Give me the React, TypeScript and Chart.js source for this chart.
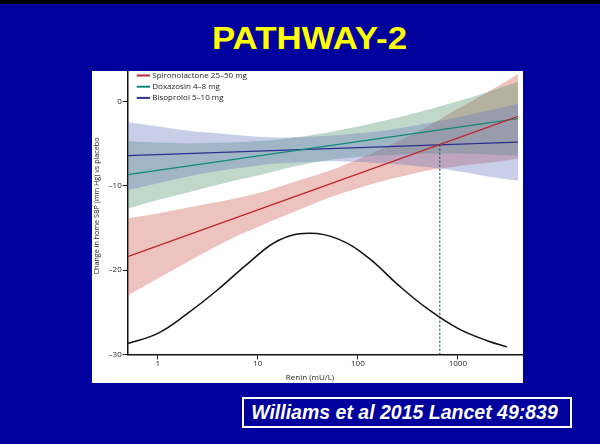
import React, { useEffect, useRef } from 'react';
import { Chart, registerables } from 'chart.js';

Chart.register(...registerables);

// ---------- data ----------
const reninGrid = [0.5, 1, 2, 5, 10, 20, 50, 100, 200, 500, 1000, 2000, 4000];
const spiroUpper = [-13.9, -13.3, -12.6, -11.7, -10.9, -9.8, -8.3, -6.9, -5.3, -3.0, -0.9, 1.1, 3.2];
const spiroLower = [-23.0, -21.0, -19.0, -16.5, -14.9, -13.4, -11.5, -10.3, -9.3, -8.2, -7.7, -7.3, -6.8];
const doxaUpper = [-4.7, -4.9, -5.0, -4.9, -4.7, -4.4, -3.7, -3.0, -2.2, -1.0, 0.0, 1.1, 2.3];
const doxaLower = [-12.7, -11.7, -10.8, -9.6, -8.8, -7.9, -7.0, -6.6, -6.4, -6.2, -6.2, -6.3, -6.4];
const bisoUpper = [-2.45, -3.0, -3.5, -3.9, -4.2, -4.3, -4.1, -3.8, -3.4, -2.6, -1.9, -1.1, -0.3];
const bisoLower = [-10.5, -9.7, -8.9, -8.1, -7.6, -7.3, -7.1, -7.2, -7.4, -7.8, -8.3, -8.9, -9.4];

const lineRenin = [0.5, 4000];
const spiroLine = [-18.4, -1.8];
const doxaLine = [-8.7, -2.05];
const bisoLine = [-6.45, -4.85];

const densityRenin = [0.5, 1, 2, 4, 8, 16, 32, 63, 126, 250, 500, 1000, 2000, 3100];
const densityValues = [-28.7, -27.5, -25.1, -22.3, -19.2, -16.5, -15.65, -16.3, -18.5, -21.7, -24.6, -26.9, -28.4, -29.1];

const cutoffRenin = [660, 660];
const cutoffValues = [-5.15, -30];

const xTickValues = [1, 10, 100, 1000];
const yTickValues = [-30, -20, -10, 0];

const legendLabels = ['Spironolactone 25–50 mg', 'Doxazosin 4–8 mg', 'Bisoprolol 5–10 mg'];
const xTitle = 'Renin (mU/L)';
const yTitle = 'Change in home SBP (mm Hg) vs placebo';
const slideTitle = 'PATHWAY-2';
const citation = 'Williams et al 2015 Lancet 49:839';

// ---------- styles ----------
const spiroColor = '#c0262c';
const doxaColor = '#128a78';
const bisoColor = '#2c2f8e';
const spiroFill = 'rgba(205,90,80,0.36)';
const doxaFill = 'rgba(70,140,100,0.34)';
const bisoFill = 'rgba(100,115,190,0.35)';
const textColor = '#222';
const chartFont = '"Open Sans", "DejaVu Sans", sans-serif';

const pts = (xs: number[], ys: number[]) => xs.map((x, i) => ({ x, y: ys[i] }));

const overlayPlugin = {
  id: 'overlay',
  afterDraw(chart: any) {
    const ctx = chart.ctx as CanvasRenderingContext2D;
    ctx.save();
    ctx.font = `8px ${chartFont}`;
    ctx.fillStyle = textColor;
    const colors = [spiroColor, doxaColor, bisoColor];
    legendLabels.forEach((label, i) => {
      const y = 4.5 + i * 11.2;
      ctx.strokeStyle = colors[i];
      ctx.lineWidth = 2;
      ctx.beginPath();
      ctx.moveTo(44.7, y);
      ctx.lineTo(58, y);
      ctx.stroke();
      ctx.textAlign = 'left';
      ctx.textBaseline = 'middle';
      ctx.fillText(label, 60.3, y);
    });
    ctx.textAlign = 'center';
    ctx.textBaseline = 'middle';
    ctx.fillText(xTitle, 218, 307);
    ctx.font = `7.2px ${chartFont}`;
    ctx.translate(4.8, 135);
    ctx.rotate(-Math.PI / 2);
    ctx.fillText(yTitle, 0, 0);
    ctx.restore();
  },
};

function PathwayChart() {
  const ref = useRef<HTMLCanvasElement | null>(null);
  useEffect(() => {
    if (!ref.current) return;
    const band = (data: any, color: string | false, order: number) => ({
      data,
      borderWidth: 0,
      pointRadius: 0,
      tension: 0.3,
      fill: color ? '+1' : false,
      backgroundColor: color || 'transparent',
      borderColor: 'transparent',
      order,
    });
    const line = (data: any, color: string, width: number, extra: any = {}) => ({
      data,
      borderColor: color,
      borderWidth: width,
      pointRadius: 0,
      fill: false,
      tension: 0,
      order: 0,
      ...extra,
    });
    const chart = new Chart(ref.current, {
      type: 'line',
      data: {
        datasets: [
          band(pts(reninGrid, spiroUpper), spiroFill, 3),
          band(pts(reninGrid, spiroLower), false, 3),
          band(pts(reninGrid, doxaUpper), doxaFill, 2),
          band(pts(reninGrid, doxaLower), false, 2),
          band(pts(reninGrid, bisoUpper), bisoFill, 1),
          band(pts(reninGrid, bisoLower), false, 1),
          line(pts(densityRenin, densityValues), '#111', 1.5, { tension: 0.4 }),
          line(pts(cutoffRenin, cutoffValues), '#1d5566', 1.2, { borderDash: [2, 2] }),
          line(pts(lineRenin, spiroLine), spiroColor, 1.3),
          line(pts(lineRenin, doxaLine), doxaColor, 1.3),
          line(pts(lineRenin, bisoLine), bisoColor, 1.3),
        ] as any,
      },
      options: {
        animation: false,
        responsive: false,
        maintainAspectRatio: false,
        events: [],
        layout: { padding: { top: 0.7, right: 0.3, left: 0, bottom: 0 } },
        plugins: { legend: { display: false }, tooltip: { enabled: false } },
        scales: {
          x: {
            type: 'logarithmic',
            min: 0.5,
            max: 4450,
            afterBuildTicks: (s: any) => {
              s.ticks = xTickValues.map((v) => ({ value: v }));
            },
            afterFit: (s: any) => {
              s.height = 28.5;
              s.paddingLeft = 0;
              s.paddingRight = 0;
            },
            grid: { drawOnChartArea: false, drawTicks: true, tickLength: 5, color: '#222', lineWidth: 1 },
            border: { display: true, color: '#111', width: 1.5 },
            ticks: {
              font: { family: chartFont, size: 8 },
              color: textColor,
              padding: -1,
              maxRotation: 0,
              autoSkip: false,
              callback: (v: any) => String(v),
            },
          },
          y: {
            type: 'linear',
            min: -30,
            max: 3.5,
            afterBuildTicks: (s: any) => {
              s.ticks = yTickValues.map((v) => ({ value: v }));
            },
            afterFit: (s: any) => {
              s.width = 35.7;
              s.paddingTop = 0;
              s.paddingBottom = 0;
            },
            grid: { drawOnChartArea: false, drawTicks: true, tickLength: 5, color: '#222', lineWidth: 1 },
            border: { display: true, color: '#111', width: 1.5 },
            ticks: {
              font: { family: chartFont, size: 8 },
              color: textColor,
              padding: 1,
              callback: (v: any) => (v === 0 ? '0' : '–' + Math.abs(v)),
            },
          },
        },
      } as any,
      plugins: [overlayPlugin],
    });
    return () => chart.destroy();
  }, []);
  return <canvas ref={ref} width={431} height={312} style={{ width: 431, height: 312, display: 'block' }} />;
}

export default function App() {
  return (
    <div
      style={{
        position: 'fixed',
        left: 0,
        top: 0,
        width: 600,
        height: 444,
        background: '#00009C',
        overflow: 'hidden',
        fontFamily: '"Liberation Sans", Arial, sans-serif',
      }}
    >
      <div style={{ position: 'absolute', left: 0, top: 0, width: 600, height: 4, background: '#000' }} />
      <div
        style={{
          position: 'absolute',
          left: 0,
          top: 22.2,
          width: 619,
          textAlign: 'center',
          color: '#FFFF00',
          fontWeight: 'bold',
          fontSize: 32,
          lineHeight: '32px',
          whiteSpace: 'nowrap',
          transform: 'scaleX(1.09)',
          transformOrigin: '309.5px 50%',
        }}
      >
        {slideTitle}
      </div>
      <div style={{ position: 'absolute', left: 92, top: 71, width: 431, height: 312, background: '#fff' }}>
        <PathwayChart />
      </div>
      <div
        style={{
          position: 'absolute',
          left: 241.7,
          top: 397.3,
          width: 330.6,
          height: 31,
          border: '2px solid #fff',
          boxSizing: 'border-box',
        }}
      />
      <div
        style={{
          position: 'absolute',
          left: 0,
          top: 403.0,
          width: 809,
          textAlign: 'center',
          color: '#fff',
          fontWeight: 'bold',
          fontStyle: 'italic',
          fontSize: 19.5,
          lineHeight: '19.5px',
          whiteSpace: 'nowrap',
        }}
      >
        {citation}
      </div>
    </div>
  );
}
